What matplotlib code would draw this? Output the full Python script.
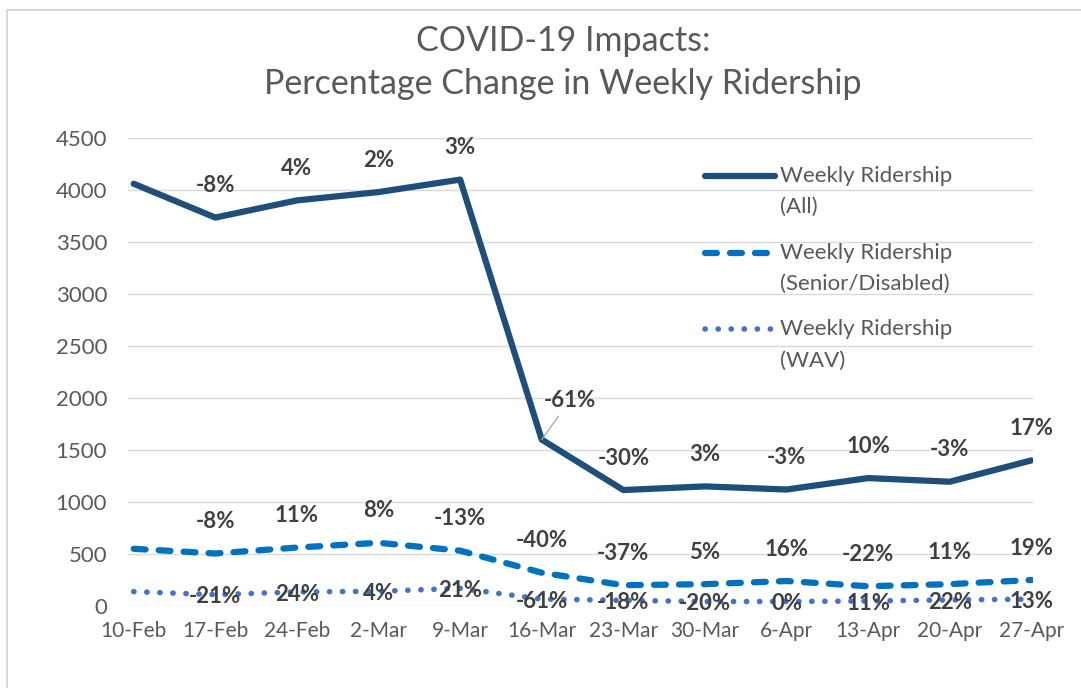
import numpy as np
import matplotlib
matplotlib.use('Agg')
import matplotlib.pyplot as plt
from matplotlib.patches import Rectangle
from matplotlib.legend_handler import HandlerLine2D

plt.rcParams['font.family'] = ['Lato', 'DejaVu Sans']

weeks = ['10-Feb', '17-Feb', '24-Feb', '2-Mar', '9-Mar', '16-Mar',
         '23-Mar', '30-Mar', '6-Apr', '13-Apr', '20-Apr', '27-Apr']

# weekly ridership counts
ride_all = [4060, 3735, 3900, 3980, 4100, 1600, 1115, 1150, 1120, 1230, 1195, 1400]
ride_senior = [550, 505, 562, 608, 532, 320, 200, 210, 240, 190, 210, 250]
ride_wav = [138, 109, 135, 141, 170, 66, 54, 43, 43, 48, 58, 66]

# week-over-week change labels
pct_all = ['', '-8%', '4%', '2%', '3%', '-61%', '-30%', '3%', '-3%', '10%', '-3%', '17%']
pct_senior = ['', '-8%', '11%', '8%', '-13%', '-40%', '-37%', '5%', '16%', '-22%', '11%', '19%']
pct_wav = ['', '-21%', '24%', '4%', '21%', '-61%', '-18%', '-20%', '0%', '11%', '22%', '13%']

yticks = [0, 500, 1000, 1500, 2000, 2500, 3000, 3500, 4000, 4500]

c_all = '#1F4E79'
c_sen = '#0070C0'
c_wav = '#4472C4'
txt = '#595959'
lab = '#404040'


class TopLineHandler(HandlerLine2D):
    # put the legend line next to the first text line, like Excel does
    def create_artists(self, legend, orig_handle, xdescent, ydescent,
                       width, height, fontsize, trans):
        arts = super().create_artists(legend, orig_handle, xdescent, ydescent,
                                      width, height, fontsize, trans)
        for a in arts:
            a.set_ydata(np.asarray(a.get_ydata()) + 0.72 * fontsize)
        return arts


fig = plt.figure(figsize=(10.81, 6.88), dpi=100)
ax = fig.add_axes([128 / 1081, 82 / 688, 905 / 1081, 468 / 688])

x = np.arange(len(weeks))

l1, = ax.plot(x, ride_all, color=c_all, lw=4.5, solid_joinstyle='round',
              solid_capstyle='round', label='Weekly Ridership\n(All)', zorder=3)
l2, = ax.plot(x, ride_senior, color=c_sen, lw=4.5, dash_capstyle='round',
              dash_joinstyle='round', dashes=(1.9, 2.1),
              label='Weekly Ridership\n(Senior/Disabled)', zorder=3)
l3, = ax.plot(x, ride_wav, color=c_wav, lw=4.0, dash_capstyle='round',
              dashes=(0.05, 2.3), label='Weekly Ridership\n(WAV)', zorder=3)

# data labels
lkw = dict(textcoords='offset points', ha='center', va='center',
           fontsize=16, fontweight='bold', color=lab)
for i in range(1, len(weeks)):
    if i == 5:
        ax.annotate(pct_all[i], (x[i], ride_all[i]), xytext=(20, 28),
                    arrowprops=dict(arrowstyle='-', color='#A6A6A6', lw=0.9,
                                    shrinkA=2, shrinkB=0), **lkw)
    else:
        ax.annotate(pct_all[i], (x[i], ride_all[i]), xytext=(0, 23), **lkw)
    ax.annotate(pct_senior[i], (x[i], ride_senior[i]), xytext=(0, 23), **lkw)
    ax.annotate(pct_wav[i], (x[i], ride_wav[i]), xytext=(0, -1.5), zorder=4, **lkw)

ax.set_xlim(-0.07, len(weeks) - 1 + 0.02)
ax.set_ylim(0, 4500)
ax.set_yticks(yticks)
ax.set_xticks(x)
ax.set_xticklabels(weeks)
ax.grid(axis='y', color='#D9D9D9', lw=1.0)
ax.set_axisbelow(True)
for s in ax.spines.values():
    s.set_visible(False)
ax.tick_params(axis='both', length=0, colors=txt)
ax.tick_params(axis='y', pad=15, labelsize=16)
ax.tick_params(axis='x', pad=11, labelsize=15)

hmap = {l1: TopLineHandler(), l2: TopLineHandler(), l3: TopLineHandler()}
leg = ax.legend(handles=[l1, l2, l3], loc='upper left', handler_map=hmap,
                bbox_to_anchor=(0.616, 0.983), frameon=False, fontsize=16,
                handlelength=3.15, handletextpad=0.22, labelspacing=1.15,
                labelcolor=txt)
for t in leg.get_texts():
    t.set_linespacing(1.7)

fig.text(0.521, 0.909, 'COVID-19 Impacts:\nPercentage Change in Weekly Ridership',
         ha='center', va='center', fontsize=24.5, color=txt, linespacing=1.45)

# chart area border
fig.patches.append(Rectangle((7 / 1081, -0.05), 1.0, 1 - 10 / 688 + 0.05,
                             transform=fig.transFigure, fill=False,
                             edgecolor='#D9D9D9', lw=1.5))

fig.savefig('out.png', dpi=100)
